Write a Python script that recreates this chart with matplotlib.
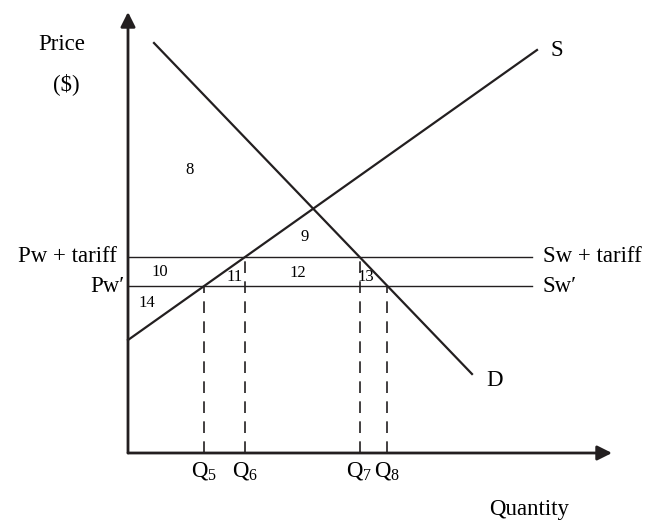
import matplotlib.pyplot as plt
import numpy as np

plt.rcParams['font.family'] = ['Liberation Serif', 'DejaVu Serif']
plt.rcParams['mathtext.fontset'] = 'custom'
plt.rcParams['mathtext.rm'] = 'Liberation Serif'

# curve end points (quantity, price) in drawing units
demand_q = [26, 344]
demand_p = [410, 79]
supply_q = [0, 409]
supply_p = [113, 403]

# world price lines
pw_tariff = 196
pw = 167
world_end = 404

axis_q_max = 484
axis_p_max = 441

# area numbers
area_labels = ['8', '9', '10', '11', '12', '13', '14']
area_q = [62, 177, 32, 107, 170, 238, 19]
area_p = [283, 216, 181, 176, 180, 176, 150]


def q_at(price, qs, ps):
    # quantity on a straight curve at the given price
    return qs[0] + (price - ps[0]) * (qs[1] - qs[0]) / (ps[1] - ps[0])


q5 = q_at(pw, supply_q, supply_p)
q6 = q_at(pw_tariff, supply_q, supply_p)
q7 = q_at(pw_tariff, demand_q, demand_p)
q8 = q_at(pw, demand_q, demand_p)

fig = plt.figure(figsize=(6.51, 5.24), dpi=100)
ax = fig.add_axes([0, 0, 1, 1])
ax.set_xlim(-128, 523)
ax.set_ylim(-71, 453)
ax.axis('off')

ink = '#231f20'

# axes with arrow heads
ax.annotate('', xy=(axis_q_max, 0), xytext=(0, 0),
            arrowprops=dict(arrowstyle='-|>', lw=2, color=ink,
                            mutation_scale=22, shrinkA=0, shrinkB=0))
ax.annotate('', xy=(0, axis_p_max), xytext=(0, 0),
            arrowprops=dict(arrowstyle='-|>', lw=2, color=ink,
                            mutation_scale=22, shrinkA=0, shrinkB=0))

ax.plot(demand_q, demand_p, color=ink, lw=1.6)
ax.plot(supply_q, supply_p, color=ink, lw=1.6)
ax.plot([0, world_end], [pw_tariff, pw_tariff], color=ink, lw=1.0)
ax.plot([0, world_end], [pw, pw], color=ink, lw=1.0)

for q, p in [(q5, pw), (q6, pw_tariff), (q7, pw_tariff), (q8, pw)]:
    ax.plot([q, q], [0, p], color=ink, lw=1.2, dashes=(7, 5))

fs = 16.5
ax.text(-90, 409, 'Price', fontsize=fs, ha='left', va='center')
ax.text(-75, 369, '($)', fontsize=fs, ha='left', va='center')
ax.text(-11, pw_tariff, 'Pw + tariff', fontsize=fs, ha='right', va='center')
ax.text(-3, pw, 'Pw\u2032', fontsize=fs, ha='right', va='center')
ax.text(world_end + 11, pw_tariff, 'Sw + tariff', fontsize=fs, ha='left', va='center')
ax.text(world_end + 11, pw, 'Sw\u2032', fontsize=fs, ha='left', va='center')
ax.text(supply_q[1] + 13, supply_p[1], 'S', fontsize=fs, ha='left', va='center')
ax.text(demand_q[1] + 14, demand_p[1] - 6, 'D', fontsize=fs, ha='left', va='center')
ax.text(401, -57, 'Quantity', fontsize=fs, ha='center', va='center')

for q, n in [(q5, 5), (q6, 6), (q7, 7), (q8, 8)]:
    ax.text(q, -19, r'$\mathrm{Q}_{%d}$' % n, fontsize=fs, ha='center', va='center')

for lab, q, p in zip(area_labels, area_q, area_p):
    ax.text(q, p, lab, fontsize=12, ha='center', va='center')

fig.savefig('out.png', dpi=100)
